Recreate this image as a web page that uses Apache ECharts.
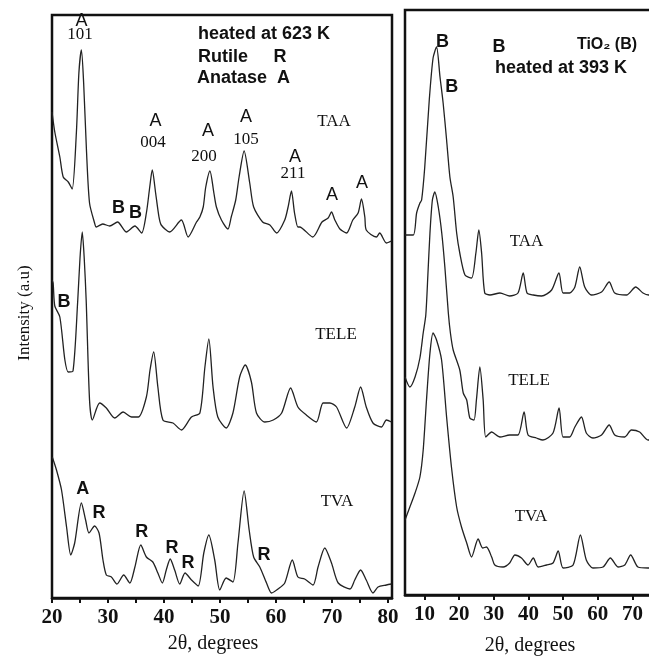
<!DOCTYPE html>
<html>
<head>
<meta charset="utf-8">
<script src="https://cdn.jsdelivr.net/npm/echarts@6/dist/echarts.min.js"></script>
<style>
  html, body { margin: 0; background: #fff; }
  #chart { width: 649px; height: 656px; }
</style>
</head>
<body>
<div id="chart"></div>
<script>
// 2theta (degrees) vs. stacked intensity (arbitrary units, offsets included)
const leftTaa = [[20.0,486],[20.5,466],[21.4,441],[22.0,421],[22.9,416],[23.6,409],[24.35,465],[24.8,525],[25.25,548],[25.65,515],[26.15,448],[26.7,395],[27.6,375],[27.9,371],[29.05,374],[30.3,372],[31.7,376],[33.3,366],[34.8,372],[36.0,365],[36.85,385],[37.45,411],[37.9,428],[38.5,405],[39.1,381],[39.5,373],[41.0,366],[43.1,378],[44.3,361],[45.8,376],[46.4,381],[47.0,391],[47.45,411],[48.2,427],[48.9,405],[49.35,391],[50.25,378],[51.4,369],[52.0,381],[52.8,398],[53.4,421],[54.3,447],[55.3,415],[56.0,391],[57.6,376],[58.9,373],[60.1,365],[61.55,378],[62.15,391],[62.75,407],[63.3,385],[63.9,371],[64.2,371],[66.55,361],[68.2,376],[69.3,380],[69.9,386],[70.5,378],[71.4,369],[72.6,365],[73.7,378],[74.65,385],[75.25,399],[75.85,381],[76.1,368],[77.9,361],[78.5,365],[79.7,355],[80.6,357]];
const leftTele = [[20.0,318],[20.2,315],[20.5,292],[21.4,281],[22.3,238],[22.9,226],[23.75,227],[24.6,298],[25.0,340],[25.4,366],[25.75,340],[26.1,298],[26.7,198],[27.2,178],[28.5,195],[29.7,190],[31.2,180],[32.7,186],[34.2,181],[35.4,181],[36.85,201],[37.5,228],[38.15,246],[38.9,211],[39.8,178],[41.6,175],[43.1,168],[44.9,181],[46.4,185],[47.3,231],[48.0,259],[48.75,211],[49.6,181],[51.1,170],[52.3,185],[53.5,221],[54.5,233],[55.6,216],[56.5,185],[58.0,176],[59.5,178],[61.0,185],[62.6,210],[63.9,191],[65.4,183],[67.2,176],[68.4,195],[69.6,195],[70.8,191],[72.6,170],[74.05,191],[75.1,211],[76.1,191],[77.3,175],[78.8,171],[79.7,178],[80.6,176]];
const leftTva = [[20.05,141],[20.8,128],[21.7,108],[22.6,71],[23.35,43],[24.05,55],[25.25,95],[26.0,78],[26.6,65],[27.6,72],[28.4,65],[29.1,38],[29.7,23],[30.6,21],[31.6,14],[32.8,23],[33.9,15],[34.8,31],[35.85,53],[36.85,41],[38.0,36],[38.9,25],[39.7,15],[40.4,28],[41.1,39],[41.9,28],[42.8,14],[43.75,25],[44.9,18],[46.1,12],[47.1,45],[48.0,63],[49.05,38],[49.95,8],[51.1,20],[52.3,16],[53.2,55],[54.3,107],[55.2,68],[56.0,41],[57.1,31],[58.3,15],[59.2,5],[60.35,9],[61.55,15],[62.9,38],[63.9,21],[65.1,19],[66.6,13],[67.5,31],[68.7,50],[69.9,35],[71.1,15],[73.2,9],[74.05,18],[75.1,28],[76.1,18],[77.3,5],[78.2,11],[79.7,13],[80.6,14]];

const rightTaa = [[4.4,360],[6.8,360],[7.75,382],[8.7,392],[9.2,395],[10.1,428],[11.4,495],[12.5,537],[13.5,548],[14.5,518],[15.4,492],[16.4,455],[17.35,418],[18.3,398],[19.3,362],[20.2,342],[21.7,320],[23.6,317],[24.85,342],[25.7,365],[26.5,342],[27.4,302],[28.9,300],[31.8,302],[34.6,299],[37.0,302],[38.5,322],[39.6,302],[41.4,300],[43.8,299],[46.7,305],[48.8,322],[50.0,302],[51.9,302],[53.4,308],[54.8,328],[56.25,308],[58.2,300],[61.1,303],[63.3,313],[64.9,302],[68.3,300],[70.95,308],[73.05,302],[74.7,300],[78,300]];
const rightTele = [[4.4,218],[5.8,208],[7.3,218],[8.7,237],[9.65,262],[10.4,280],[11.0,320],[11.6,362],[12.3,395],[13.0,403],[14.0,388],[15.0,362],[15.9,328],[16.9,282],[17.5,262],[18.3,245],[20.2,225],[21.2,202],[22.2,195],[23.1,177],[24.3,175],[25.0,195],[26.0,228],[26.95,195],[27.7,158],[29.4,163],[31.8,158],[34.6,160],[37.0,160],[38.75,183],[39.9,160],[42.3,157],[44.2,155],[47.1,162],[48.85,187],[50.0,158],[51.9,158],[53.4,168],[55.3,178],[56.7,162],[58.6,157],[61.1,160],[63.3,170],[64.9,160],[67.8,158],[69.7,165],[72.1,163],[74.5,155],[78,156]];
const rightTva = [[4.4,75],[5.8,88],[7.3,102],[8.7,118],[9.65,145],[10.6,195],[11.6,242],[12.5,262],[13.5,255],[14.95,235],[16.4,178],[17.8,128],[19.3,88],[20.7,68],[22.2,52],[23.6,38],[25.5,56],[26.8,47],[27.9,48],[29.4,38],[30.3,30],[32.7,28],[34.6,32],[36.1,40],[38.0,37],[39.9,30],[41.4,37],[42.8,28],[45.2,30],[47.1,32],[48.6,44],[50.0,27],[52.9,30],[55.0,60],[56.7,35],[58.6,27],[61.5,28],[63.65,37],[65.85,28],[67.8,30],[69.5,40],[71.6,28],[74.5,27],[78,27]];

const leftTicks = [20, 25, 30, 35, 40, 45, 50, 55, 60, 65, 70, 75, 80];
const leftLabels = [20, 30, 40, 50, 60, 70, 80];
const rightTicks = [10, 20, 30, 40, 50, 60, 70, 80];

const SERIF = '"Liberation Serif", "DejaVu Serif", serif';
const SANS = '"Liberation Sans", "DejaVu Sans", sans-serif';
const INK = '#111';

// annotation text: [text, x, y, kind, align]
const notes = [
  ['A', 81.5, 21, 'a'], ['101', 80, 35, 'idx'],
  ['heated at 623 K', 198, 34.5, 'head', 'left'],
  ['Rutile', 198, 57.5, 'head', 'left'], ['R', 280, 57.5, 'head'],
  ['Anatase', 197, 78, 'head', 'left'], ['A', 283.5, 78, 'head'],
  ['A', 155.5, 121, 'a'], ['004', 153, 142.5, 'idx'],
  ['A', 208, 131, 'a'], ['200', 204, 157, 'idx'],
  ['A', 246, 117, 'a'], ['105', 246, 140, 'idx'],
  ['A', 295, 157, 'a'], ['211', 293, 174, 'idx'],
  ['A', 332, 195, 'a'], ['A', 362, 183, 'a'],
  ['TAA', 334, 122, 'name'],
  ['B', 118.5, 208, 'b'], ['B', 135.5, 213.5, 'b'],
  ['B', 64, 302, 'b'],
  ['TELE', 336, 335, 'name'],
  ['A', 82.7, 489, 'b'], ['R', 99, 513, 'b'], ['R', 141.7, 532, 'b'],
  ['R', 172, 548, 'b'], ['R', 188, 563, 'b'], ['R', 264, 555, 'b'],
  ['TVA', 337, 502, 'name'],
  ['B', 442.5, 41.7, 'b'], ['B', 451.7, 86.7, 'b'], ['B', 499, 47.5, 'b'],
  ['TiO\u2082 (B)', 607, 45, 'tio'],
  ['heated at 393 K', 495, 68.5, 'head', 'left'],
  ['TAA', 526.5, 241.5, 'name'],
  ['TELE', 529, 381, 'name'],
  ['TVA', 531, 517, 'name'],
  ['2\u03b8, degrees', 213, 644, 'axis'],
  ['2\u03b8, degrees', 530, 646, 'axis']
];

const fonts = {
  a: '18px ' + SANS,
  b: 'bold 18px ' + SANS,
  head: 'bold 18px ' + SANS,
  tio: 'bold 16px ' + SANS,
  idx: '17px ' + SERIF,
  name: '17px ' + SERIF,
  axis: '20px ' + SERIF
};

const graphics = notes.map(([text, x, y, kind, align]) => ({
  type: 'text',
  x: x,
  y: y,
  silent: true,
  style: {
    text: text,
    font: fonts[kind],
    fill: INK,
    textAlign: align || 'center',
    textVerticalAlign: 'middle'
  }
}));
graphics.push({
  type: 'text',
  x: 25,
  y: 313,
  rotation: Math.PI / 2,
  silent: true,
  style: {
    text: 'Intensity (a.u)',
    font: '17px ' + SERIF,
    fill: INK,
    textAlign: 'center',
    textVerticalAlign: 'middle'
  }
});

const chart = echarts.init(document.getElementById('chart'));

const axisCommon = (grid, min, max, ticks, labels) => ({
  gridIndex: grid,
  type: 'value',
  min: min,
  max: max,
  axisLine: { show: true, lineStyle: { color: INK, width: 2.5 } },
  axisTick: {
    show: true, inside: false, length: 5,
    lineStyle: { color: INK, width: 2 },
    customValues: ticks
  },
  axisLabel: {
    customValues: labels,
    margin: 9,
    color: INK,
    fontFamily: SERIF,
    fontWeight: 'bold',
    fontSize: 21
  },
  splitLine: { show: false }
});

const line = (data, x, y) => ({
  type: 'line',
  xAxisIndex: x,
  yAxisIndex: y,
  data: data,
  symbol: 'none',
  smooth: 0.25,
  lineStyle: { color: '#222', width: 1.3 },
  silent: true
});

chart.setOption({
  animation: false,
  backgroundColor: '#fff',
  grid: [
    { left: 52, top: 15, width: 340, height: 583, show: true, borderColor: INK, borderWidth: 2.5, outerBoundsMode: 'none', containLabel: false },
    { left: 405, top: 10, width: 269, height: 585, show: true, borderColor: INK, borderWidth: 2.5, outerBoundsMode: 'none', containLabel: false }
  ],
  xAxis: [
    axisCommon(0, 20, 80.7, leftTicks, leftLabels),
    axisCommon(1, 4.4, 82, rightTicks, rightTicks)
  ],
  yAxis: [
    { gridIndex: 0, type: 'value', min: 0, max: 583, show: false },
    { gridIndex: 1, type: 'value', min: 0, max: 585, show: false }
  ],
  series: [
    line(leftTaa, 0, 0), line(leftTele, 0, 0), line(leftTva, 0, 0),
    line(rightTaa, 1, 1), line(rightTele, 1, 1), line(rightTva, 1, 1)
  ],
  graphic: graphics
});
</script>
</body>
</html>
